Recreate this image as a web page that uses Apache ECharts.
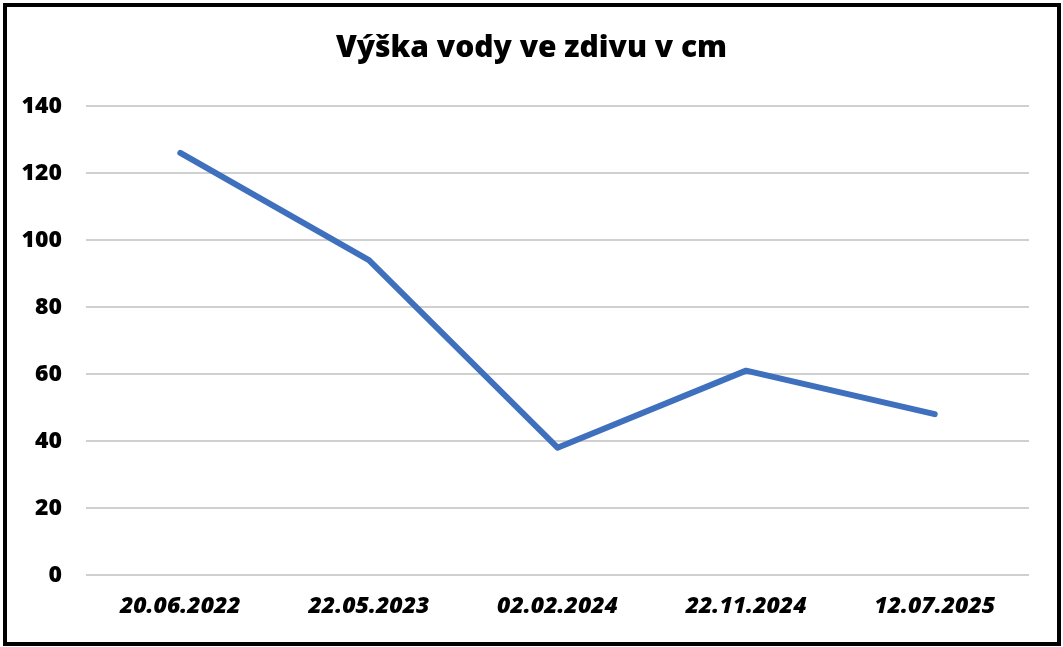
<!DOCTYPE html>
<html><head><meta charset="utf-8">
<script src="https://cdn.jsdelivr.net/npm/echarts@6/dist/echarts.min.js"></script>
<style>html,body{margin:0;padding:0;background:#fff}#c{width:1063px;height:647px}
#frame{position:absolute;left:3px;top:3px;width:1050px;height:635px;border:4px solid #000;pointer-events:none}</style>
</head><body><div id="c"></div><div id="frame"></div>
<script>
const titleText = 'Výška vody ve zdivu v cm';
const categories = ['20.06.2022','22.05.2023','02.02.2024','22.11.2024','12.07.2025'];
const values = [126, 94, 38, 61, 48];
const yMin = 0, yMax = 140, yStep = 20;

const chart = echarts.init(document.getElementById('c'));
chart.setOption({
  animation:false,
  title:{text:titleText,left:'center',top:28,textStyle:{fontFamily:'Open Sans',fontWeight:800,fontSize:30,color:'#000'}},
  grid:{left:86,right:34,top:106,bottom:72,containLabel:false},
  xAxis:{type:'category',data:categories,boundaryGap:true,
    axisLine:{show:false},axisTick:{show:false},
    axisLabel:{fontFamily:'Open Sans',fontWeight:800,fontStyle:'italic',fontSize:23,color:'#000',margin:20}},
  yAxis:{type:'value',min:yMin,max:yMax,interval:yStep,
    axisLine:{show:false},axisTick:{show:false},
    splitLine:{lineStyle:{color:'#d0d0d0',width:2}},
    axisLabel:{fontFamily:'Open Sans',fontWeight:800,fontSize:23,color:'#000',margin:24}},
  series:[{type:'line',data:values,symbol:'none',lineStyle:{color:'#3f70be',width:6,cap:'round',join:'round'}}]
});
</script></body></html>
